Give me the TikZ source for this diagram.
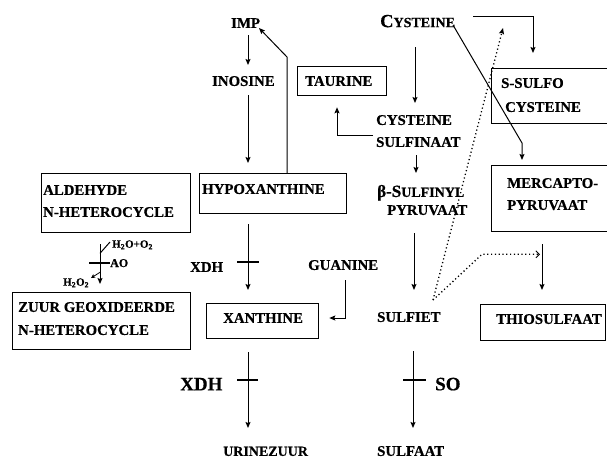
\documentclass[tikz,border=0pt]{standalone}
\usepackage{fontspec}
\setmainfont{Liberation Serif}[BoldFeatures={FakeBold=0.5}]
\usetikzlibrary{arrows.meta,calc}
\begin{document}
\begin{tikzpicture}[x=1pt,y=-1pt,
  lbl/.style={font=\bfseries\fontsize{14.8}{17}\selectfont, inner sep=0pt, anchor=west, text height=9.8pt, text depth=0pt},
  lblbig/.style={font=\bfseries\fontsize{19}{21}\selectfont, inner sep=0pt, anchor=west, text height=12.6pt, text depth=0pt},
  lblsm/.style={font=\bfseries\fontsize{11}{12}\selectfont, inner sep=0pt, anchor=west, text height=7.3pt, text depth=0pt},
  box/.style={draw, line width=1.3pt, inner sep=0pt, anchor=north west},
  arr/.style={line width=1pt, -{Stealth[length=6pt,width=5pt,inset=1pt]}},
  plain/.style={line width=1pt},
  barline/.style={line width=2.8pt},
  dotl/.style={line width=1.3pt, dash pattern=on 1.2pt off 2.6pt}
]
\useasboundingbox (0,0) rectangle (607,459);
\clip (0,0) rectangle (607,459);

% boxes
\node[box, minimum width=147pt, minimum height=40pt] (hypox) at (199,173) {};
\node[box, minimum width=89pt, minimum height=29pt] (taur) at (297,66) {};
\node[box, minimum width=125pt, minimum height=55pt] (ssul) at (491,68) {};
\node[box, minimum width=125pt, minimum height=66pt] (merc) at (491,165) {};
\node[box, minimum width=149pt, minimum height=59pt] (ald) at (41,173) {};
\node[box, minimum width=178pt, minimum height=57pt] (zuur) at (12,292) {};
\node[box, minimum width=112pt, minimum height=35pt] (xan) at (206,303) {};
\node[box, minimum width=125pt, minimum height=36pt] (thio) at (480,304) {};

% labels
\node[lbl] (imp) at (231,23) {IMP};
\node[lbl] (inosine) at (212,81) {INOSINE};
\node[lbl] (hypoxT) at (202,189) {HYPOXANTHINE};
\node[lbl] (taurT) at (305,81) {TAURINE};
\node[lbl, text height=12.2pt] (cyst) at (380,21) {{\fontsize{18.5}{20}\selectfont C}{\fontsize{14}{16}\selectfont YSTEINE}};
\node[lbl] (cs1) at (376,120) {CYSTEINE};
\node[lbl] (cs2) at (376,142) {SULFINAAT};
\node[lbl] (bs1) at (377,192) {{\fontsize{17}{19}\selectfont β-S}{\fontsize{14}{16}\selectfont ULFINYL}};
\node[lbl] (bs2) at (387,210) {PYRUVAAT};
\node[lbl] (ald1) at (43,190) {ALDEHYDE};
\node[lbl] (ald2) at (43,212) {N-HETEROCYCLE};
\node[lbl] (ssul1) at (501,83) {S-SULFO};
\node[lbl] (ssul2) at (505,107) {CYSTEINE};
\node[lbl] (merc1) at (507,183) {MERCAPTO-};
\node[lbl] (merc2) at (507,205) {PYRUVAAT};
\node[lbl] (xdh1) at (190,267) {XDH};
\node[lbl] (guan) at (308,265) {GUANINE};
\node[lbl] (xanT) at (223,318) {XANTHINE};
\node[lbl] (sulfiet) at (377,317) {SULFIET};
\node[lbl] (thioT) at (496,319) {THIOSULFAAT};
\node[lbl] (zuur1) at (18,307) {ZUUR GEOXIDEERDE};
\node[lbl] (zuur2) at (18,330) {N-HETEROCYCLE};
\node[lblbig] (xdh2) at (180,384) {XDH};
\node[lblbig] (so) at (435,384) {SO};
\node[lbl, font=\bfseries\fontsize{14}{16}\selectfont] (urine) at (223,451) {URINEZUUR};
\node[lbl] (sulfaat) at (377,451) {SULFAAT};
\node[lblsm] (h2oo2) at (112,244) {H\textsubscript{2}O+O\textsubscript{2}};
\node[lblsm, font=\bfseries\fontsize{12}{13}\selectfont, text height=8pt] (ao) at (110,263) {AO};
\node[lblsm] (h2o2) at (63,282) {H\textsubscript{2}O\textsubscript{2}};

% purine branch
\draw[arr] ($(imp.west)+(17,12)$) -- ($(inosine.west)+(36,-16)$);
\draw[arr] ($(inosine.west)+(36,14)$) -- ($(hypox.north west)+(49,-10)$);
\draw[arr] ($(hypox.north west)+(88,0)$) -- ($(hypox.north west)+(88,-116)$) -- ($(imp.west)+(28,5)$);
\draw[arr] ($(hypox.south west)+(49,10)$) -- ($(xan.north west)+(42,-13)$);
\draw[barline] ($(xdh1.west)+(47,-5)$) -- ++(22,0);
\draw[arr] ($(guan.west)+(37,15)$) |- ($(xan.north east)+(10,15)$);
\draw[arr] ($(xan.south west)+(42,13)$) -- ($(urine.west)+(25,-23)$);
\draw[barline] ($(xdh2.west)+(57,-4)$) -- ++(21,0);

% AO reaction
\draw[arr] ($(ald.south west)+(59,11)$) -- ($(zuur.north west)+(88,-8)$);
\draw[barline] ($(ao.west)+(-21,0)$) -- (ao.west);
\draw[plain] ($(ald.south west)+(59,20)$) -- ($(h2oo2.west)+(-2,-2)$);
\draw[line width=0.8pt, -{Stealth[length=4pt,width=4pt,inset=0.8pt]}] ($(ald.south west)+(59,39)$) -- ($(h2o2.west)+(28,-4)$);

% cysteine branch
\draw[arr] ($(cyst.west)+(35,26)$) -- ($(cs1.west)+(39,-17)$);
\draw[arr] ($(cs2.west)+(-3,-7)$) -| ($(taur.south west)+(40,11)$);
\draw[arr] ($(cs2.west)+(40,13)$) -- ($(bs1.west)+(39,-19)$);
\draw[arr] ($(bs2.west)+(27,23)$) -- ($(sulfiet.west)+(37,-27)$);
\draw[arr] ($(cyst.west)+(93,-5)$) -| ($(ssul.north west)+(42,-15)$);
\draw[arr] ($(cyst.west)+(73,4)$) -- ($(merc.north west)+(31,-22)$) -- ($(merc.north west)+(31,-5)$);
\draw[arr] ($(merc.south west)+(51,12)$) -- ($(thio.north west)+(62,-14)$);
\draw[arr] ($(sulfiet.west)+(36,34)$) -- ($(sulfaat.west)+(36,-23)$);
\draw[barline] ($(so.west)+(-32,-4)$) -- ++(23,0);

% dotted connectors
\coordinate (sdot) at ($(sulfiet.west)+(56,-17)$);
\draw[dotl, -{Stealth[length=6pt,width=5pt,inset=1pt]}] (sdot) -- ($(cyst.west)+(123,7)$);
\draw[dotl, -{Straight Barb[length=3.5pt,width=7pt,line width=0.9pt]}] (sdot) -- ($(merc.south west)+(-9,22)$) -- ($(merc.south west)+(49,22)$);
\end{tikzpicture}
\end{document}
